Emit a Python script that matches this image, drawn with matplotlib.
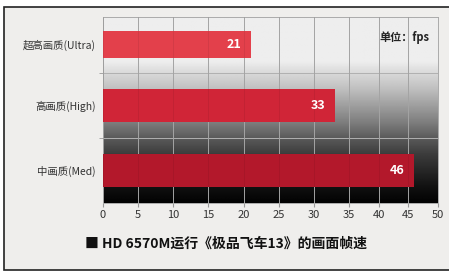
import numpy as np
import matplotlib
matplotlib.use('Agg')
import matplotlib.pyplot as plt
from matplotlib.patches import Rectangle

plt.rcParams['font.family'] = ['Noto Sans CJK SC', 'DejaVu Sans']

# 数据
categories = ['中画质(Med)', '高画质(High)', '超高画质(Ultra)']
fps = [46, 33, 21]
bar_colors = ['#b3182b', '#d02537', '#e3404b']
x_ticks = [0, 5, 10, 15, 20, 25, 30, 35, 40, 45, 50]
title = '■ HD 6570M运行《极品飞车13》的画面帧速'
unit_text = '单位：fps'

fig = plt.figure(figsize=(4.49, 2.71), dpi=100)
fig.patch.set_facecolor('white')

# 外框背景
W, H = 449, 271
frame = Rectangle((4 / W, 1 / H), 1.0, (H - 8) / H, transform=fig.transFigure,
                  facecolor='#efeeec', edgecolor='#222222', linewidth=1.2, zorder=-10)
fig.patches.append(frame)

ax = fig.add_axes([103 / W, 1 - 203 / H, (438 - 103) / W, (203 - 17) / H])
ax.set_zorder(1)
ax.set_facecolor('#efeeec')

# 原图的横轴刻度间距不均匀 (35 之后变窄)
axis_px = np.array([0, 35, 70, 105, 141, 176, 211, 246, 276, 305, 335], dtype=float)
tick_arr = np.array(x_ticks, dtype=float)


def fwd(x):
    return np.interp(x, tick_arr, axis_px)


def inv(p):
    return np.interp(p, axis_px, tick_arr)


ax.set_xscale('function', functions=(fwd, inv))

ylim = (-0.5, 2.36)
ax.set_xlim(0, 50)
ax.set_ylim(*ylim)

# 背景渐变 (下黑上浅灰), 按像素位置取样
px_y = np.array([203, 187, 154, 138, 122, 88, 75, 62, 17], dtype=float)
gray = np.array([0.01, 0.07, 0.24, 0.36, 0.50, 0.76, 0.84, 0.93, 0.93])
frac = (203 - px_y) / 186.0
yy = np.linspace(0, 1, 400)
v = np.interp(yy, frac, gray)
grad = np.repeat(v[:, None], 2, axis=1)
ax.imshow(grad, extent=(0, 50, ylim[0], ylim[1]), origin='lower', aspect='auto',
          cmap='gray', vmin=0, vmax=1, zorder=0)

# 网格 (条形上也隐约可见)
for x in x_ticks:
    ax.axvline(x, color='#b0b0b0', linewidth=0.7, zorder=1)
    ax.axvline(x, color='#000000', linewidth=0.6, alpha=0.08, zorder=3.5)
for yb in [0.5, 1.5]:
    ax.axhline(yb, color='#b0b0b0', linewidth=0.7, zorder=1)

ypos = np.array([0, 1, 1.94])
heights = [0.51, 0.51, 0.42]
bars = ax.barh(ypos, fps, height=heights, color=bar_colors, zorder=3)
for b, val in zip(bars, fps):
    ax.annotate(str(val), xy=(b.get_width(), b.get_y() + b.get_height() / 2),
                xytext=(-7, 0), textcoords='offset points', ha='right', va='center',
                color='white', fontsize=9, fontweight='bold', zorder=4)

ax.set_yticks(ypos)
ax.set_yticklabels(categories, fontsize=7.5, color='#333333')
ax.set_yticks([0.5, 1.5], minor=True)
ax.tick_params(axis='y', which='major', length=0, pad=5)
ax.tick_params(axis='y', which='minor', length=3, color='#999999')
ax.set_xticks(x_ticks)
ax.set_xticklabels([str(t) for t in x_ticks])
ax.xaxis.set_minor_locator(matplotlib.ticker.NullLocator())
ax.tick_params(axis='x', labelsize=8, labelcolor='#333333', length=3, color='#999999', pad=2)

for s in ax.spines.values():
    s.set_color('#aaaaaa')
    s.set_linewidth(0.7)

ax.text(0.975, 0.89, unit_text, transform=ax.transAxes, ha='right', va='center',
        fontsize=8, fontweight='bold', color='#222222', zorder=5)

fig.text(85 / W, 1 - 244 / H, title, ha='left', va='center', fontsize=10,
         fontweight='bold', color='#111111')

fig.savefig('out.png', dpi=100, facecolor=fig.get_facecolor())
